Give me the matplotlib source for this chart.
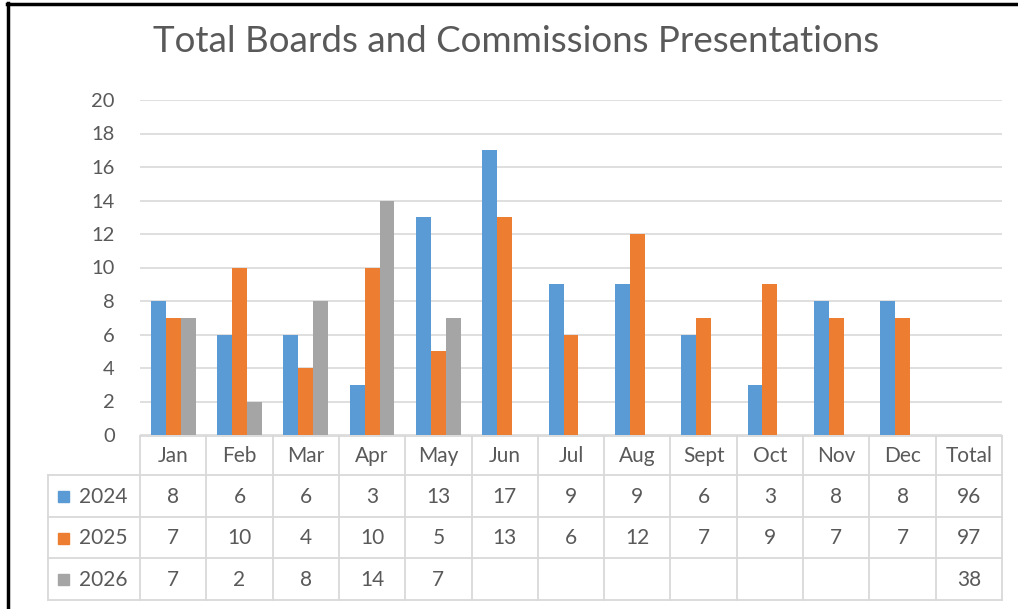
import matplotlib
matplotlib.use("Agg")
import matplotlib.pyplot as plt
from matplotlib.patches import Rectangle
import numpy as np

months = ["Jan", "Feb", "Mar", "Apr", "May", "Jun", "Jul", "Aug", "Sept", "Oct", "Nov", "Dec"]
series_names = ["2024", "2025", "2026"]
v2024 = [8, 6, 6, 3, 13, 17, 9, 9, 6, 3, 8, 8]
v2025 = [7, 10, 4, 10, 5, 13, 6, 12, 7, 9, 7, 7]
v2026 = [7, 2, 8, 14, 7, None, None, None, None, None, None, None]
totals = [96, 97, 38]
colors = ["#5B9BD5", "#ED7D31", "#A5A5A5"]
yticks = [0, 2, 4, 6, 8, 10, 12, 14, 16, 18, 20]
title = "Total Boards and Commissions Presentations"

W, H = 1018, 609
FONT = "Lato"
TXT = "#595959"
GRID = "#D9D9D9"

fig = plt.figure(figsize=(W / 100, H / 100), dpi=100)
fig.patch.set_facecolor("white")

# plot area in pixels
x0, x1 = 140, 1002
y_top, y_bot = 100, 435
ax = fig.add_axes([x0 / W, (H - y_bot) / H, (x1 - x0) / W, (y_bot - y_top) / H])
ncol = len(months) + 1
ax.set_xlim(-0.5, ncol - 0.5)
ax.set_ylim(0, 20)
ax.set_yticks(yticks)
ax.set_yticklabels([str(t) for t in yticks], fontsize=14.5, color=TXT, family=FONT)
ax.tick_params(axis="y", length=0, pad=18)
ax.set_xticks([])
for s in ax.spines.values():
    s.set_visible(False)
ax.grid(axis="y", color=GRID, linewidth=1.2)
ax.set_axisbelow(True)

bw = 0.225
series = [v2024, v2025, v2026]
xs = np.arange(len(months))
for i, vals in enumerate(series):
    xv = [x + (i - 1) * bw for x, v in zip(xs, vals) if v is not None]
    hv = [v for v in vals if v is not None]
    ax.bar(xv, hv, width=bw, color=colors[i], zorder=3)

fig.text(516 / W, 1 - 42 / H, title, ha="center", va="center", fontsize=26.5,
         color=TXT, family=FONT)

# overlay for table and frame (pixel coords)
ov = fig.add_axes([0, 0, 1, 1], facecolor="none")
ov.set_xlim(0, W)
ov.set_ylim(H, 0)
ov.axis("off")

colw = (x1 - x0) / ncol
col_edges = [x0 + i * colw for i in range(ncol + 1)]
row_edges = [436, 475, 517, 558, 600]
lab_left = 48
lc = "#D9D9D9"
lw = 1.3
ov.plot([x0, x1], [row_edges[0], row_edges[0]], color=lc, lw=lw)
for r in row_edges[1:]:
    ov.plot([lab_left, x1], [r, r], color=lc, lw=lw)
for i, cx in enumerate(col_edges):
    ov.plot([cx, cx], [row_edges[0], row_edges[-1]], color=lc, lw=lw)
ov.plot([lab_left, lab_left], [row_edges[1], row_edges[-1]], color=lc, lw=lw)

FS = 15
headers = months + ["Total"]
for i, h in enumerate(headers):
    cx = (col_edges[i] + col_edges[i + 1]) / 2
    ov.text(cx, (row_edges[0] + row_edges[1]) / 2 + 1, h, ha="center", va="center",
            fontsize=FS, color=TXT, family=FONT)

for r, vals in enumerate(series):
    cy = (row_edges[r + 1] + row_edges[r + 2]) / 2 + 1
    row = [("" if v is None else str(v)) for v in vals] + [str(totals[r])]
    for i, t in enumerate(row):
        cx = (col_edges[i] + col_edges[i + 1]) / 2
        ov.text(cx, cy, t, ha="center", va="center", fontsize=FS, color=TXT, family=FONT)
    ov.add_patch(Rectangle((58, cy - 6), 11, 11, color=colors[r]))
    ov.text(79, cy, series_names[r], ha="left", va="center", fontsize=FS,
            color=TXT, family=FONT)

# outer frame (left and top edges)
ov.plot([8, 8], [3, H], color="black", lw=2.5)
ov.plot([7, W], [4, 4], color="black", lw=2.5)

fig.savefig("out.png", dpi=100)
